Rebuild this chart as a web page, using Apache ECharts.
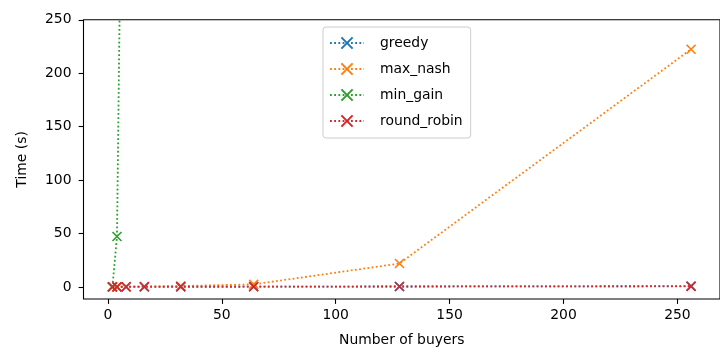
<!DOCTYPE html>
<html>
<head>
<meta charset="utf-8">
<title>Time vs buyers</title>
<script src="https://cdn.jsdelivr.net/npm/echarts@6/dist/echarts.min.js"></script>
<style>
  html, body { margin: 0; padding: 0; background: #fff; }
  #chart { width: 720px; height: 352px; }
</style>
</head>
<body>
<div id="chart"></div>
<script>
// number of buyers
var buyers = [2, 4, 8, 16, 32, 64, 128, 256];
// time in seconds
var greedy = [0.05, 0.05, 0.1, 0.1, 0.2, 0.3, 0.5, 0.8];
var maxNash = [0.1, 0.2, 0.3, 0.5, 0.9, 2.5, 22, 222.5];
var minGain = [0.2, 47.3, 770];
var roundRobin = [0.2, 0.2, 0.3, 0.3, 0.4, 0.4, 0.5, 0.6];
var xTicks = [0, 50, 100, 150, 200, 250];
var yTicks = [0, 50, 100, 150, 200, 250];

var font = 'DejaVu Sans';
var cross = 'path://M0,0L10,10M0,10L10,0';

function pairs(ys) {
    return ys.map(function (y, i) { return [buyers[i], y]; });
}

function makeSeries(name, ys, color) {
    return {
        name: name,
        type: 'line',
        data: pairs(ys),
        symbol: cross,
        symbolSize: 9,
        showSymbol: true,
        animation: false,
        clip: true,
        lineStyle: { color: color, width: 1.8, type: [1.8, 2.4] },
        itemStyle: { color: color, borderColor: color, borderWidth: 1.6 }
    };
}

var myChart = echarts.init(document.getElementById('chart'));
myChart.setOption({
    animation: false,
    grid: {
        left: 83.5, right: -10.6, top: 19.8, bottom: 52.7,
        show: true, borderColor: '#000', borderWidth: 1.1, backgroundColor: '#fff'
    },
    legend: {
        orient: 'vertical',
        left: 323, top: 27,
        padding: [9, 8, 10, 6],
        itemWidth: 34, itemHeight: 14, itemGap: 12,
        borderColor: '#cccccc', borderWidth: 1, borderRadius: 3,
        textStyle: { fontFamily: font, fontSize: 13.9, color: '#000', padding: [0, 0, 0, 11] },
        data: ['greedy', 'max_nash', 'min_gain', 'round_robin']
    },
    xAxis: {
        type: 'value',
        min: -10.7, max: 268.7,
        name: 'Number of buyers',
        nameLocation: 'middle',
        nameGap: 34,
        nameTextStyle: { fontFamily: font, fontSize: 13.9, color: '#000' },
        splitLine: { show: false },
        axisLine: { show: false, onZero: false },
        axisTick: { show: true, length: 4.9, customValues: xTicks, lineStyle: { color: '#000', width: 1.1 } },
        axisLabel: { customValues: xTicks, margin: 9, fontFamily: font, fontSize: 13.9, color: '#000' }
    },
    yAxis: {
        type: 'value',
        min: -11.2, max: 250,
        name: 'Time (s)',
        nameLocation: 'middle',
        nameGap: 54,
        nameRotate: 90,
        nameTextStyle: { fontFamily: font, fontSize: 13.9, color: '#000' },
        splitLine: { show: false },
        axisLine: { show: false, onZero: false },
        axisTick: { show: true, length: 4.9, customValues: yTicks, lineStyle: { color: '#000', width: 1.1 } },
        axisLabel: { customValues: yTicks, margin: 12, fontFamily: font, fontSize: 13.9, color: '#000' }
    },
    series: [
        makeSeries('greedy', greedy, '#1f77b4'),
        makeSeries('max_nash', maxNash, '#ff7f0e'),
        makeSeries('min_gain', minGain, '#2ca02c'),
        makeSeries('round_robin', roundRobin, '#d62728')
    ]
});
</script>
</body>
</html>
